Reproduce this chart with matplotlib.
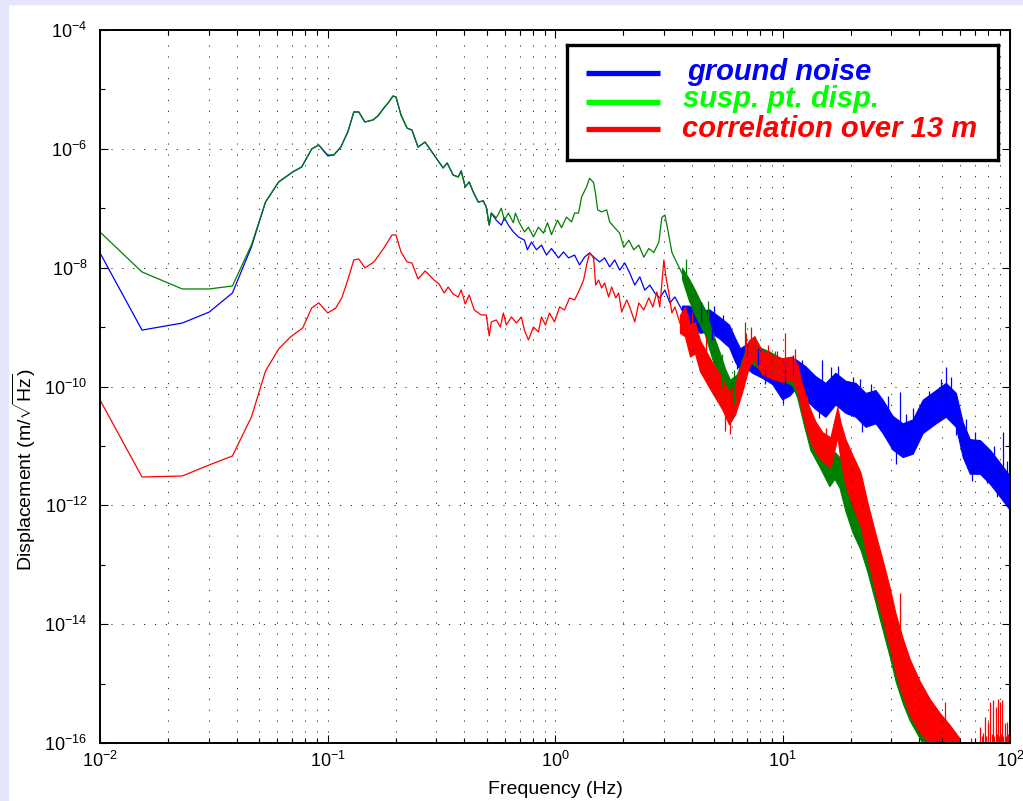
import numpy as np
import matplotlib.pyplot as plt
from matplotlib.patches import Rectangle
from matplotlib.ticker import NullFormatter

plt.rcParams['font.family'] = ['Liberation Sans', 'DejaVu Sans']
plt.rcParams['mathtext.fontset'] = 'custom'
plt.rcParams['mathtext.rm'] = 'Liberation Sans'
plt.rcParams['mathtext.it'] = 'Liberation Sans:italic'
plt.rcParams['mathtext.bf'] = 'Liberation Sans:bold'
plt.rcParams['mathtext.default'] = 'regular'

series_names = ['ground noise', 'susp. pt. disp.', 'correlation over 13 m']

# ground noise spectrum (Hz, m/sqrt(Hz))
ground_freq = np.array([
    0.0100, 0.0153, 0.0230, 0.0302, 0.0382, 0.0463, 0.0534, 0.0610, 0.0703, 0.0770,
    0.0852, 0.0915, 0.1003, 0.1066, 0.1144, 0.1228, 0.1305, 0.1373, 0.1460, 0.1584,
    0.1665, 0.1770, 0.1862, 0.1940, 0.2000, 0.2104, 0.2236, 0.2351, 0.2500, 0.2685,
    0.2941, 0.3223, 0.3357, 0.3567, 0.3753, 0.3870, 0.4030, 0.4197, 0.4371, 0.4599,
    0.4838, 0.4986, 0.5141, 0.525, 0.552, 0.581, 0.599, 0.624, 0.656, 0.690,
    0.734, 0.756, 0.788, 0.829, 0.872, 0.917, 0.965, 1.036, 1.090, 1.147,
    1.219, 1.282, 1.349, 1.419, 1.494, 1.571, 1.653, 1.739, 1.830, 1.925,
    2.026, 2.131, 2.242, 2.359, 2.481, 2.611, 2.746, 2.889, 3.041, 3.199,
    3.365, 3.614])
ground_disp = np.array([
    1.77e-8, 8.9e-10, 1.17e-9, 1.79e-9, 3.75e-9, 2.23e-8, 1.27e-7, 2.77e-7, 4.08e-7, 4.95e-7,
    9.94e-7, 1.16e-6, 7.6e-7, 7.88e-7, 1.07e-6, 1.92e-6, 4.17e-6, 4.17e-6, 2.83e-6, 3.06e-6,
    3.57e-6, 4.87e-6, 6.14e-6, 7.74e-6, 7.46e-6, 3.71e-6, 2.24e-6, 2.07e-6, 1.07e-6, 1.30e-6,
    7.88e-7, 4.76e-7, 5.78e-7, 3.63e-7, 3.36e-7, 4.24e-7, 2.28e-7, 2.77e-7, 1.88e-7, 1.27e-7,
    1.33e-7, 1.05e-7, 5.2e-8, 8.3e-8, 6.3e-8, 5.2e-8, 6.9e-8, 5.2e-8, 4.0e-8, 3.3e-8,
    2.9e-8, 2.0e-8, 2.7e-8, 2.0e-8, 2.4e-8, 1.63e-8, 2.1e-8, 1.46e-8, 1.84e-8, 1.46e-8,
    1.63e-8, 1.11e-8, 1.51e-8, 1.77e-8, 1.46e-8, 1.25e-8, 1.46e-8, 1.03e-8, 1.35e-8, 9.1e-9,
    1.20e-8, 8.1e-9, 5.1e-9, 7.0e-9, 4.2e-9, 5.1e-9, 3.75e-9, 3.09e-9, 4.2e-9, 2.55e-9,
    3.21e-9, 1.94e-9])
# above ~3.6 Hz the spectrum is dense: upper and lower edges of the trace
ground_band_freq = np.array([
    3.614, 3.879, 4.123, 4.338, 4.75, 5.26, 5.82, 6.19, 6.51, 6.85,
    7.36, 8.14, 9.01, 9.97, 10.71, 11.38, 12.60, 13.94, 15.44, 17.08,
    18.91, 20.94, 23.17, 25.64, 27.54, 30.48, 33.75, 37.35, 41.33, 47.2,
    52.2, 57.8, 62.0, 66.6, 73.8, 81.6, 90.3, 100.0])
ground_band_upper = np.array([
    2.3e-9, 2.3e-9, 1.9e-9, 1.8e-9, 2.0e-9, 1.5e-9, 1.1e-9, 6.5e-10, 4.4e-10, 5.0e-10,
    3.8e-10, 3.3e-10, 2.6e-10, 2.0e-10, 2.4e-10, 2.9e-10, 2.2e-10, 1.5e-10, 1.15e-10, 1.7e-10,
    1.25e-10, 1.15e-10, 7.8e-11, 8.7e-11, 6.0e-11, 3.2e-11, 2.4e-11, 2.8e-11, 6.0e-11, 8.7e-11,
    1.15e-10, 7.8e-11, 2.5e-11, 1.3e-11, 1.25e-11, 8.6e-12, 5.2e-12, 3.1e-12])
ground_band_lower = np.array([
    1.6e-9, 1.2e-9, 9.5e-10, 8.0e-10, 8.5e-10, 6.5e-10, 4.6e-10, 2.6e-10, 1.9e-10, 2.1e-10,
    1.7e-10, 1.4e-10, 1.1e-10, 6.1e-11, 7.0e-11, 9.1e-11, 6.1e-11, 4.2e-11, 3.1e-11, 5.0e-11,
    3.6e-11, 3.1e-11, 2.1e-11, 2.4e-11, 1.65e-11, 8.7e-12, 6.5e-12, 7.4e-12, 1.65e-11, 2.4e-11,
    3.1e-11, 2.1e-11, 6.5e-12, 3.4e-12, 3.4e-12, 2.3e-12, 1.4e-12, 8.3e-13])
ground_spike_freq = np.array([
    14.97, 20.31, 32.7, 37.35, 52.2, 93.1, 4.4, 5.0, 5.5, 7.0,
    7.8, 10.3, 11.1, 12.2, 16.3, 17.5, 22.0, 24.5, 29.0, 35.0,
    44.0, 49.5, 55.0, 64.0, 70.0, 85.0, 97.0, 4.9, 6.3, 8.4,
    10.0, 14.5, 22.3, 31.5, 58.0, 68.0, 79.0, 88.0])
ground_spike_low = np.array([
    8e-11, 6e-11, 1.5e-11, 1.5e-11, 6e-11, 2.5e-12, 1.2e-9, 1.1e-9, 8e-10, 3e-10,
    2.3e-10, 1.2e-10, 1.5e-10, 1.3e-10, 8e-11, 9e-11, 5e-11, 4.5e-11, 2.5e-11, 1.4e-11,
    4e-11, 5e-11, 5e-11, 8e-12, 6e-12, 3.5e-12, 2e-12, 6e-10, 2e-10, 1.1e-10,
    5e-11, 3e-11, 1.7e-11, 5e-12, 1.5e-11, 2.6e-12, 2.4e-12, 1.4e-12])
ground_spike_high = np.array([
    2.8e-10, 1.45e-10, 8.1e-11, 4.35e-11, 2.13e-10, 1.72e-11, 2.6e-9, 2.3e-9, 1.6e-9, 5.5e-10,
    4.4e-10, 2.8e-10, 3.4e-10, 2.8e-10, 2.1e-10, 2.2e-10, 1.35e-10, 1.1e-10, 7e-11, 3.5e-11,
    8.5e-11, 1.35e-10, 1.45e-10, 2.8e-11, 1.7e-11, 1e-11, 5.5e-12, 1.1e-9, 4e-10, 2e-10,
    1.1e-10, 7e-11, 4e-11, 1.4e-11, 4e-11, 6e-12, 5e-12, 3e-12])

# suspension point displacement
susp_freq = np.array([
    0.0100, 0.0153, 0.0230, 0.0302, 0.0382, 0.0463, 0.0534, 0.0610, 0.0703, 0.0770,
    0.0852, 0.0915, 0.1003, 0.1066, 0.1144, 0.1228, 0.1305, 0.1373, 0.1460, 0.1584,
    0.1665, 0.1770, 0.1862, 0.1940, 0.2000, 0.2104, 0.2236, 0.2351, 0.2500, 0.2685,
    0.2941, 0.3223, 0.3357, 0.3567, 0.3753, 0.3870, 0.4030, 0.4197, 0.4371, 0.4599,
    0.4838, 0.4986, 0.5141, 0.525, 0.552, 0.581, 0.599, 0.624, 0.656, 0.670,
    0.697, 0.734, 0.764, 0.804, 0.846, 0.890, 0.927, 0.965, 1.026, 1.068,
    1.124, 1.182, 1.219, 1.269, 1.309, 1.377, 1.419, 1.478, 1.509, 1.540,
    1.603, 1.687, 1.739, 1.830, 1.925, 2.005, 2.110, 2.219, 2.335, 2.456,
    2.585, 2.719, 2.861, 2.950, 3.041, 3.134, 3.265, 3.435, 3.614])
susp_disp = np.array([
    3.98e-8, 8.46e-9, 4.38e-9, 4.38e-9, 4.92e-9, 2.41e-8, 1.27e-7, 2.77e-7, 4.08e-7, 4.95e-7,
    9.94e-7, 1.16e-6, 7.88e-7, 7.88e-7, 1.07e-6, 1.92e-6, 4.17e-6, 4.17e-6, 2.83e-6, 3.06e-6,
    3.57e-6, 4.87e-6, 6.14e-6, 7.74e-6, 7.46e-6, 3.71e-6, 2.24e-6, 2.07e-6, 1.07e-6, 1.30e-6,
    7.88e-7, 4.76e-7, 5.78e-7, 3.63e-7, 3.36e-7, 4.24e-7, 2.28e-7, 2.77e-7, 1.88e-7, 1.27e-7,
    1.33e-7, 1.05e-7, 5.2e-8, 8.3e-8, 6.9e-8, 1.0e-7, 6.3e-8, 8.3e-8, 5.7e-8, 8.3e-8,
    5.7e-8, 4.0e-8, 4.8e-8, 3.3e-8, 4.8e-8, 3.8e-8, 5.7e-8, 3.6e-8, 6.3e-8, 4.7e-8,
    7.1e-8, 5.9e-8, 8.3e-8, 8.3e-8, 1.55e-7, 2.3e-7, 3.2e-7, 2.7e-7, 1.7e-7, 9.4e-8,
    8.7e-8, 9.4e-8, 5.9e-8, 4.7e-8, 3.8e-8, 2.2e-8, 2.9e-8, 2.0e-8, 2.4e-8, 1.5e-8,
    2.1e-8, 1.8e-8, 2.7e-8, 7.0e-8, 7.7e-8, 4.3e-8, 1.8e-8, 1.2e-8, 8.1e-9])
susp_band_freq = np.array([
    3.614, 3.879, 4.123, 4.338, 4.56, 4.90, 5.26, 5.59, 5.88, 6.31,
    6.64, 7.13, 7.90, 8.74, 9.97, 11.04, 11.61, 12.47, 13.26, 14.52,
    16.07, 16.91, 17.79, 18.91, 20.31, 22.02, 23.64, 25.64, 27.54, 29.56,
    31.42, 33.75, 36.23, 40.09, 43.5, 46.7, 55.0])
susp_band_upper = np.array([
    1.0e-8, 6.5e-9, 4.2e-9, 2.8e-9, 2.0e-9, 8.5e-10, 4e-10, 2e-10, 1.3e-10, 1.6e-10,
    2.8e-10, 6e-10, 4.6e-10, 3.9e-10, 2.9e-10, 2.5e-10, 1.8e-10, 7e-11, 3e-11, 1.4e-11,
    6.5e-12, 8e-12, 6.5e-12, 4e-12, 2.0e-12, 1.0e-12, 4.8e-13, 1.6e-13, 5.5e-14, 1.9e-14,
    7e-15, 2.8e-15, 1.3e-15, 5.5e-16, 3.2e-16, 2e-16, 4.5e-17])
susp_band_lower = np.array([
    6.5e-9, 2.8e-9, 1.6e-9, 1.1e-9, 7.5e-10, 3.0e-10, 1.4e-10, 7e-11, 5e-11, 6e-11,
    1.1e-10, 2.6e-10, 2.0e-10, 1.7e-10, 1.25e-10, 1.05e-10, 6.5e-11, 2.1e-11, 8.5e-12, 4.5e-12,
    2.1e-12, 2.8e-12, 2.0e-12, 8e-13, 3.5e-13, 1.8e-13, 7.5e-14, 2.3e-14, 8e-15, 2.9e-15,
    1.1e-15, 4.7e-16, 2.4e-16, 1.2e-16, 6.8e-17, 4.3e-17, 9e-18])
susp_spike_freq = np.array([6.85, 3.75, 4.7, 5.4, 6.1, 7.6, 9.3])
susp_spike_low = np.array([3e-10, 4e-9, 8e-10, 1e-10, 5e-11, 2.5e-10, 1.6e-10])
susp_spike_high = np.array([1.2e-9, 1.4e-8, 2.8e-9, 3.5e-10, 1.9e-10, 7e-10, 4e-10])

# correlated motion over 13 m
corr_freq = np.array([
    0.0100, 0.0153, 0.0230, 0.0302, 0.0382, 0.0463, 0.0534, 0.0610, 0.0688, 0.0778,
    0.0852, 0.0915, 0.1003, 0.1088, 0.1155, 0.1228, 0.1305, 0.1373, 0.1460, 0.1600,
    0.1770, 0.1920, 0.2000, 0.2104, 0.2236, 0.2351, 0.2500, 0.2685, 0.2941, 0.3094,
    0.3256, 0.3391, 0.3567, 0.3753, 0.3870, 0.4030, 0.4197, 0.4416, 0.4741, 0.4986,
    0.5141, 0.5248, 0.5521, 0.5750, 0.5928, 0.6111, 0.6427, 0.6763, 0.7115, 0.7337,
    0.7640, 0.8040, 0.8458, 0.8720, 0.9080, 0.9456, 0.9949, 1.047, 1.101, 1.159,
    1.219, 1.269, 1.336, 1.377, 1.419, 1.478, 1.509, 1.555, 1.603, 1.653,
    1.721, 1.775, 1.849, 1.905, 1.964, 2.067, 2.131, 2.242, 2.335, 2.456,
    2.585, 2.692, 2.803, 2.889, 3.010, 3.072, 3.166, 3.265, 3.365, 3.540])
corr_disp = np.array([
    5.93e-11, 3.0e-12, 3.12e-12, 4.78e-12, 6.77e-12, 3.07e-11, 1.82e-10, 4.28e-10, 6.83e-10, 9.66e-10,
    2.10e-9, 2.55e-9, 1.73e-9, 2.10e-9, 3.09e-9, 6.21e-9, 1.35e-8, 1.40e-8, 9.88e-9, 1.25e-8,
    2.14e-8, 3.55e-8, 3.55e-8, 1.84e-8, 1.25e-8, 1.20e-8, 6.45e-9, 8.79e-9, 6.21e-9, 5.31e-9,
    3.75e-9, 4.73e-9, 3.60e-9, 3.21e-9, 4.22e-9, 2.45e-9, 3.47e-9, 1.94e-9, 1.60e-9, 1.60e-9,
    7.08e-10, 1.22e-9, 1.32e-9, 1.00e-9, 1.73e-9, 1.08e-9, 1.48e-9, 1.17e-9, 1.48e-9, 8.9e-10,
    6.07e-10, 1.00e-9, 8.28e-10, 1.48e-9, 1.08e-9, 1.73e-9, 1.22e-9, 2.18e-9, 1.94e-9, 3.09e-9,
    2.86e-9, 3.90e-9, 6.21e-9, 1.11e-8, 1.77e-8, 1.46e-8, 5.1e-9, 6.21e-9, 4.55e-9, 5.52e-9,
    3.21e-9, 4.73e-9, 3.09e-9, 3.75e-9, 1.79e-9, 2.86e-9, 2.18e-9, 1.22e-9, 2.55e-9, 1.94e-9,
    3.09e-9, 2.18e-9, 3.90e-9, 2.18e-9, 1.35e-8, 6.97e-9, 3.75e-9, 1.73e-9, 2.18e-9, 1.17e-9])
corr_band_freq = np.array([
    3.540, 3.725, 3.920, 4.123, 4.338, 4.90, 5.42, 5.82, 6.19, 6.64,
    7.13, 7.51, 8.14, 9.01, 9.97, 11.04, 11.61, 12.22, 13.12, 13.94,
    14.97, 16.24, 17.43, 17.98, 18.91, 20.31, 22.02, 23.64, 25.64, 27.54,
    29.56, 31.42, 33.75, 36.23, 40.09, 44.39, 49.13, 54.36, 60.0])
corr_band_upper = np.array([
    1.6e-9, 2.2e-9, 1.1e-9, 1.2e-9, 6e-10, 2.6e-10, 1.4e-10, 8e-11, 1.1e-10, 2.6e-10,
    6e-10, 7e-10, 4e-10, 3.4e-10, 3.0e-10, 3.2e-10, 2.4e-10, 1.05e-10, 4.5e-11, 2.6e-11,
    1.7e-11, 1.4e-11, 4.5e-11, 2.5e-11, 1.3e-11, 7e-12, 3.6e-12, 1.1e-12, 3.3e-13, 1.2e-13,
    4.2e-14, 1.5e-14, 5.8e-15, 2.6e-15, 1.1e-15, 5.5e-16, 3.2e-16, 2.0e-16, 1.2e-16])
corr_band_lower = np.array([
    8e-10, 7e-10, 3.2e-10, 3.6e-10, 1.8e-10, 8e-11, 4.2e-11, 2.3e-11, 3.4e-11, 8e-11,
    2.2e-10, 2.8e-10, 1.6e-10, 1.35e-10, 1.2e-10, 1.3e-10, 8.5e-11, 3.4e-11, 1.3e-11, 8e-12,
    5.5e-12, 4.3e-12, 1.4e-11, 6e-12, 2.2e-12, 1.0e-12, 4.5e-13, 1.3e-13, 3.4e-14, 1.2e-14,
    4.2e-15, 1.5e-15, 6.2e-16, 3.0e-16, 1.5e-16, 1.0e-16, 6e-17, 4e-17, 2.5e-17])
corr_spike_freq = np.array([
    10.28, 32.7, 51.7, 67.3, 73.9, 75.0, 76.0, 77.3, 78.5, 80.0,
    81.9, 83.0, 84.1, 85.3, 86.5, 87.5, 88.5, 89.5, 90.6, 91.5,
    92.5, 93.6, 94.8, 96.0, 97.0, 98.4, 99.7, 4.0, 4.6, 5.6,
    5.9, 6.9, 7.3, 8.6, 9.5, 11.3, 12.8, 15.5])
corr_spike_low = np.array([
    2e-10, 3e-15, 5e-17, 5e-17, 5e-17, 5e-17, 5e-17, 5e-17, 5e-17, 5e-17,
    5e-17, 5e-17, 5e-17, 5e-17, 5e-17, 5e-17, 5e-17, 5e-17, 5e-17, 5e-17,
    5e-17, 5e-17, 5e-17, 5e-17, 5e-17, 5e-17, 5e-17, 5e-10, 2e-10, 1.8e-11,
    1.6e-11, 2e-10, 3e-10, 1.8e-10, 1.5e-10, 1.5e-10, 2e-11, 5e-12])
corr_spike_high = np.array([
    8e-10, 3.35e-14, 4.9e-16, 1.2e-16, 1.86e-16, 1.3e-16, 1.5e-16, 2.74e-16, 1.3e-16, 2.3e-16,
    4.9e-16, 1.4e-16, 5.3e-16, 1.3e-16, 4.0e-16, 1.4e-16, 5.5e-16, 1.3e-16, 4.9e-16, 1.4e-16,
    5.3e-16, 1.3e-16, 2.2e-16, 1.3e-16, 2.3e-16, 1.4e-16, 2.2e-16, 1.8e-9, 7e-10, 5e-11,
    4e-11, 8e-10, 1e-9, 5e-10, 4e-10, 4.2e-10, 7e-11, 2e-11])

blue, green, red = '#0000ff', '#008000', '#ff0000'
legend_colors = ['#0000ff', '#00ff00', '#ff0000']

fig = plt.figure(figsize=(10.23, 8.01), dpi=100, facecolor='white')
# pale strip along the left and top edges of the slide
fig.add_artist(Rectangle((0, 0), 8 / 1023, 1, transform=fig.transFigure,
                         color='#e6e6fa', zorder=-5))
fig.add_artist(Rectangle((0, 1 - 4 / 801), 1, 4 / 801, transform=fig.transFigure,
                         color='#e6e6fa', zorder=-5))

ax = fig.add_axes([100 / 1023, 58 / 801, 910 / 1023, 713 / 801])
ax.set_xscale('log')
ax.set_yscale('log')


def draw_curve(freq, disp, band, spikes, color):
    ax.plot(freq, disp, color=color, lw=0.9)
    bf, bup, blo = band
    ax.fill_between(bf, blo, bup, color=color, lw=0.8)
    sf, slo, shi = spikes
    ax.vlines(sf, slo, shi, color=color, lw=0.9)


draw_curve(ground_freq, ground_disp,
           (ground_band_freq, ground_band_upper, ground_band_lower),
           (ground_spike_freq, ground_spike_low, ground_spike_high), blue)
draw_curve(susp_freq, susp_disp,
           (susp_band_freq, susp_band_upper, susp_band_lower),
           (susp_spike_freq, susp_spike_low, susp_spike_high), green)
draw_curve(corr_freq, corr_disp,
           (corr_band_freq, corr_band_upper, corr_band_lower),
           (corr_spike_freq, corr_spike_low, corr_spike_high), red)

ax.set_xlim(1e-2, 1e2)
ax.set_ylim(1e-16, 1e-4)
ax.set_yticks([10.0 ** e for e in range(-16, -3, 2)])
ax.set_yticks([10.0 ** e for e in range(-15, -4, 2)], minor=True)
ax.yaxis.set_minor_formatter(NullFormatter())
ax.xaxis.set_minor_formatter(NullFormatter())

dots = (0, (1.2, 10))
ax.xaxis.grid(True, which='both', ls=dots, color='0.15', lw=0.7)
ax.yaxis.grid(True, which='major', ls=dots, color='0.15', lw=0.7)

ax.tick_params(which='both', direction='in', top=True, right=True,
               width=0.8, labelsize=13, colors='black')
ax.tick_params(which='major', length=6, pad=6)
ax.tick_params(which='minor', length=3.5)
ax.tick_params(axis='y', which='major', pad=9)
for s in ax.spines.values():
    s.set_linewidth(1.4)

ax.set_xlabel('Frequency (Hz)', fontsize=14)
ax.xaxis.set_label_coords(0.501, -0.053)
ax.set_ylabel(r'Displacement (m/$\sqrt{Hz}$)', fontsize=14)
ax.yaxis.set_label_coords(-0.068, 0.383)

# boxed legend in the upper right, laid out in pixel units
leg = fig.add_axes([567 / 1023, (801 - 160) / 801, 431 / 1023, 115 / 801])
leg.set_xlim(0, 431)
leg.set_ylim(115, 0)
leg.set_xticks([])
leg.set_yticks([])
for s in leg.spines.values():
    s.set_linewidth(2.4)
row_line_y = [28, 57, 84]
row_text_x = [120, 116, 115]
row_text_y = [35, 62, 92]
for name, col, ly, tx, ty in zip(series_names, legend_colors, row_line_y,
                                 row_text_x, row_text_y):
    leg.plot([19, 93], [ly, ly], color=col, lw=3.8, solid_capstyle='butt')
    leg.text(tx, ty, name, color=col, fontsize=21, fontweight='bold',
             fontstyle='italic', va='baseline', ha='left')

fig.savefig('out.png', dpi=100, facecolor=fig.get_facecolor())
